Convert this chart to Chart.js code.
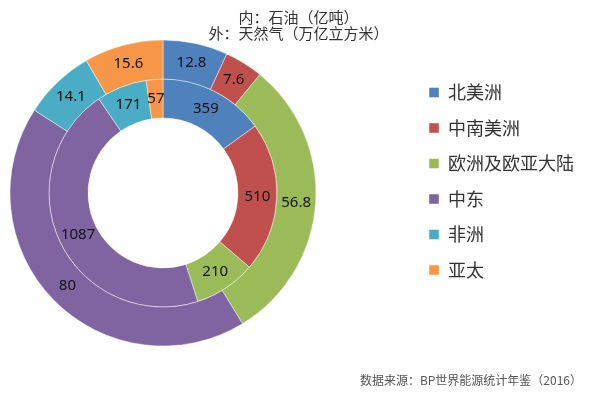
<!DOCTYPE html>
<html>
<head>
<meta charset="utf-8">
<title>石油与天然气储量</title>
<script src="https://cdn.jsdelivr.net/npm/chart.js@4"></script>
<style>
    body { margin: 0; background: #ffffff; }
    canvas { display: block; }
</style>
</head>
<body>
<canvas id="chart" width="597" height="397"></canvas>
<script>
const regions = ["北美洲", "中南美洲", "欧洲及欧亚大陆", "中东", "非洲", "亚太"];
const gasValues = [12.8, 7.6, 56.8, 80, 14.1, 15.6];   // outer ring
const oilValues = [359, 510, 210, 1087, 171, 57];     // inner ring
const titleLines = ["内：石油（亿吨）", "外：天然气（万亿立方米）"];
const sourceText = "数据来源：BP世界能源统计年鉴（2016）";

const colors = ["#4F81BD", "#C0504D", "#9BBB59", "#8064A2", "#4BACC6", "#F79646"];
const cjkFont = "'Noto Sans CJK SC', 'Noto Sans', sans-serif";

// value printed in the middle of every slice
const sliceLabels = {
    id: "sliceLabels",
    afterDatasetsDraw(chart) {
        const ctx = chart.ctx;
        ctx.save();
        ctx.font = "15px 'Noto Sans', sans-serif";
        ctx.fillStyle = "#111111";
        ctx.textAlign = "center";
        ctx.textBaseline = "middle";
        chart.data.datasets.forEach((ds, i) => {
            chart.getDatasetMeta(i).data.forEach((arc, j) => {
                const p = arc.tooltipPosition();
                ctx.fillText(String(ds.data[j]), p.x, p.y);
            });
        });
        ctx.restore();
    }
};

// put the doughnut on the left and the legend on the right like the original
const placeBoxes = {
    id: "placeBoxes",
    afterLayout(chart) {
        chart.chartArea = { left: 9.5, top: 39.5, right: 316.5, bottom: 346.5, width: 307, height: 307 };
        const lg = chart.legend;
        const w = lg.width;
        lg.left = 411.5;
        lg.right = lg.left + w;
        lg.top = 66;
        lg.bottom = 397;
    }
};

new Chart(document.getElementById("chart"), {
    type: "doughnut",
    data: {
        labels: regions,
        datasets: [
            { label: "天然气", data: gasValues, backgroundColor: colors, borderColor: "rgba(255,255,255,0.45)", borderWidth: 1 },
            { label: "石油", data: oilValues, backgroundColor: colors, borderColor: "rgba(255,255,255,0.45)", borderWidth: 1 }
        ]
    },
    options: {
        responsive: false,
        animation: false,
        cutout: "49%",
        layout: { padding: { left: 15, right: 15 } },
        plugins: {
            title: {
                display: true,
                text: titleLines,
                color: "#333333",
                font: { family: cjkFont, size: 15, weight: "normal", lineHeight: 1.1 },
                padding: { top: 9, bottom: 4 }
            },
            subtitle: {
                display: true,
                text: sourceText,
                position: "bottom",
                align: "end",
                color: "#555555",
                font: { family: cjkFont, size: 12, weight: "normal" },
                padding: { top: 4, bottom: 9 }
            },
            legend: {
                position: "right",
                align: "start",
                labels: {
                    boxWidth: 10,
                    boxHeight: 10,
                    padding: 17.5,
                    color: "#333333",
                    font: { family: cjkFont, size: 18 }
                }
            },
            tooltip: { enabled: false }
        }
    },
    plugins: [sliceLabels, placeBoxes]
});
</script>
</body>
</html>
